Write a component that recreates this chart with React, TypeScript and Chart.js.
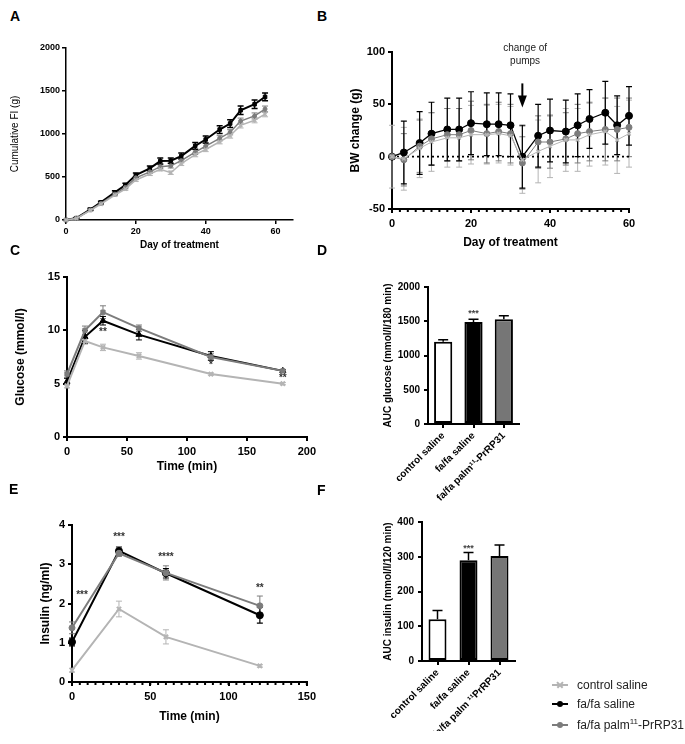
import React, { useEffect, useRef } from 'react';
import { Chart, registerables } from 'chart.js';

Chart.register(...registerables);

const FONT = '"Liberation Sans", Arial, Helvetica, sans-serif';
const C_FA = '#000000';
const C_PALM = '#7c7c7c';
const C_CTRL = '#b4b4b4';

// ---------- Panel A: cumulative food intake ----------
const dayA = [0, 3, 7, 10, 14, 17, 20, 24, 27, 30, 33, 37, 40, 44, 47, 50, 54, 57];
const fiFa = [0, 22, 124, 205, 321, 406, 522, 600, 685, 690, 743, 862, 936, 1052, 1122, 1276, 1346, 1431];
const fiFaErr = [0, 8, 12, 12, 18, 20, 25, 28, 35, 30, 35, 40, 40, 45, 45, 50, 50, 45];
const fiPalm = [0, 20, 118, 192, 300, 378, 490, 560, 620, 630, 690, 790, 860, 950, 1020, 1150, 1210, 1290];
const fiPalmErr = [0, 6, 10, 10, 12, 15, 18, 20, 22, 25, 25, 28, 30, 30, 30, 35, 35, 35];
const fiCtrl = [0, 18, 112, 185, 290, 360, 465, 535, 590, 550, 655, 760, 820, 910, 980, 1100, 1160, 1230];
const fiCtrlErr = [0, 5, 8, 10, 12, 15, 15, 18, 20, 20, 22, 25, 25, 25, 28, 30, 30, 30];
const ticksAX = [0, 20, 40, 60];
const ticksAY = [0, 500, 1000, 1500, 2000];

// ---------- Panel B: body weight change ----------
const dayB = [0, 3, 7, 10, 14, 17, 20, 24, 27, 30, 33, 37, 40, 44, 47, 50, 54, 57, 60];
const bwFa = [0, 4, 13, 22, 26, 26, 32, 31, 31, 30, 0, 20, 25, 24, 30, 36, 42, 30, 39];
const bwFaErr = [0, 30, 30, 30, 30, 30, 30, 30, 30, 30, 30, 30, 30, 30, 30, 28, 30, 28, 28];
const bwPalm = [0, -3, 10, 17, 21, 21, 25, 22, 24, 22, -6, 14, 14, 17, 22, 24, 26, 26, 28];
const bwPalmErr = [0, 25, 25, 25, 25, 25, 28, 28, 28, 28, 25, 25, 25, 25, 28, 28, 30, 30, 28];
const bwCtrl = [0, -2, 8, 14, 18, 18, 21, 21, 22, 20, -3, 5, 10, 16, 16, 21, 24, 16, 22];
const bwCtrlErr = [30, 30, 28, 28, 28, 28, 28, 28, 28, 28, 32, 30, 30, 30, 30, 30, 32, 32, 32];
const ticksBX = [0, 20, 40, 60];
const ticksBY = [-50, 0, 50, 100];

// ---------- Panel C: glucose ----------
const timeC = [0, 15, 30, 60, 120, 180];
const gluFa = [5.2, 9.4, 10.9, 9.6, 7.6, 6.2];
const gluFaErr = [0.3, 0.6, 0.4, 0.5, 0.4, 0.1];
const gluPalm = [5.9, 10.0, 11.7, 10.2, 7.5, 6.2];
const gluPalmErr = [0.3, 0.4, 0.6, 0.3, 0.3, 0.1];
const gluCtrl = [4.8, 9.0, 8.4, 7.6, 5.9, 5.0];
const gluCtrlErr = [0.2, 0.3, 0.3, 0.3, 0.1, 0.1];
const ticksCX = [0, 50, 100, 150, 200];
const ticksCY = [0, 5, 10, 15];
const starsC = [
  { x: 30, y: 9.8, text: '**' },
  { x: 120, y: 6.7, text: '*' },
  { x: 180, y: 5.5, text: '**' },
];

// ---------- Panel D: AUC glucose ----------
const groupsD = ['control saline', 'fa/fa saline', 'fa/fa palm\u00B9\u00B9-PrRP31'];
const aucGlu = [1200, 1490, 1530];
const aucGluErr = [30, 40, 50];
const ticksDY = [0, 500, 1000, 1500, 2000];
const starsD = [{ x: 1, y: 1610, text: '***' }];

// ---------- Panel E: insulin ----------
const timeE = [0, 30, 60, 120];
const insFa = [1.02, 3.34, 2.77, 1.7];
const insFaErr = [0.1, 0.1, 0.12, 0.2];
const insPalm = [1.38, 3.28, 2.78, 1.94];
const insPalmErr = [0.15, 0.08, 0.18, 0.25];
const insCtrl = [0.3, 1.86, 1.15, 0.41];
const insCtrlErr = [0.05, 0.2, 0.18, 0.03];
const ticksEX = [0, 50, 100, 150];
const ticksEY = [0, 1, 2, 3, 4];
const starsE = [
  { x: 6.4, y: 2.22, text: '***' },
  { x: 30, y: 3.7, text: '***' },
  { x: 60, y: 3.17, text: '****' },
  { x: 120, y: 2.38, text: '**' },
];

// ---------- Panel F: AUC insulin ----------
const groupsF = ['control saline', 'fa/fa saline', 'fa/fa palm \u00B9\u00B9PrRP31'];
const aucIns = [120, 290, 302];
const aucInsErr = [25, 22, 32];
const ticksFY = [0, 100, 200, 300, 400];
const starsF = [{ x: 1, y: 325, text: '***' }];

// ---------- legend ----------
const legendItems = [
  { label: 'control saline', sup: '', rest: '', color: C_CTRL, marker: 'x' },
  { label: 'fa/fa saline', sup: '', rest: '', color: C_FA, marker: 'dot' },
  { label: 'fa/fa palm', sup: '11', rest: '-PrRP31', color: C_PALM, marker: 'dot' },
];

// ---------- plugins ----------
const errorBarPlugin = {
  id: 'errorBars',
  beforeDatasetsDraw(chart: any) {
    drawErrors(chart, false);
  },
  afterDatasetsDraw(chart: any) {
    drawErrors(chart, true);
  },
};

function drawErrors(chart: any, after: boolean) {
  const ctx = chart.ctx;
  const ys = chart.scales.y;
  chart.data.datasets.forEach((ds: any, di: number) => {
    const errs = ds.errors;
    if (!errs) return;
    const upOnly = !!ds.errorUpOnly;
    if (upOnly !== after) return;
    const meta = chart.getDatasetMeta(di);
    ctx.save();
    ctx.strokeStyle = ds.errorColor || ds.borderColor;
    ctx.lineWidth = ds.errorWidth || 1;
    const cap = ds.errorCap || 3;
    meta.data.forEach((el: any, i: number) => {
      const e = errs[i];
      if (!e) return;
      const raw = ds.data[i];
      const v = typeof raw === 'number' ? raw : raw.y;
      const x = el.x;
      const yTop = ys.getPixelForValue(v + e);
      const yBot = ys.getPixelForValue(upOnly ? v : v - e);
      ctx.beginPath();
      ctx.moveTo(x, yTop);
      ctx.lineTo(x, yBot);
      ctx.moveTo(x - cap, yTop);
      ctx.lineTo(x + cap, yTop);
      if (!upOnly) {
        ctx.moveTo(x - cap, yBot);
        ctx.lineTo(x + cap, yBot);
      }
      ctx.stroke();
    });
    ctx.restore();
  });
}

function makeNotes(cfg: any) {
  return {
    id: 'notes',
    beforeDatasetsDraw(chart: any) {
      if (cfg.zeroLine) {
        const ctx = chart.ctx;
        const { left, right } = chart.chartArea;
        const y = chart.scales.y.getPixelForValue(0);
        ctx.save();
        ctx.strokeStyle = '#000';
        ctx.lineWidth = 1.6;
        ctx.setLineDash([2, 3]);
        ctx.beginPath();
        ctx.moveTo(left, y);
        ctx.lineTo(right, y);
        ctx.stroke();
        ctx.restore();
      }
    },
    afterDraw(chart: any) {
      const ctx = chart.ctx;
      const xs = chart.scales.x;
      const ys = chart.scales.y;
      if (cfg.minorStep) {
        const b = chart.chartArea.bottom;
        ctx.save();
        ctx.strokeStyle = '#000';
        ctx.lineWidth = 2;
        for (let v = xs.min; v <= xs.max + 1e-6; v += cfg.minorStep) {
          const px = xs.getPixelForValue(v);
          ctx.beginPath();
          ctx.moveTo(px, b);
          ctx.lineTo(px, b + 3);
          ctx.stroke();
        }
        ctx.restore();
      }
      (cfg.items || []).forEach((it: any) => {
        ctx.save();
        ctx.font = it.font || `bold 10px ${FONT}`;
        ctx.fillStyle = it.color || '#333';
        ctx.textAlign = 'center';
        ctx.textBaseline = 'middle';
        ctx.fillText(it.text, xs.getPixelForValue(it.x), ys.getPixelForValue(it.y));
        ctx.restore();
      });
      if (cfg.arrow) {
        const a = cfg.arrow;
        const x = xs.getPixelForValue(a.x);
        const y1 = ys.getPixelForValue(a.from);
        const y2 = ys.getPixelForValue(a.to);
        ctx.save();
        ctx.strokeStyle = '#000';
        ctx.fillStyle = '#000';
        ctx.lineWidth = 2;
        ctx.beginPath();
        ctx.moveTo(x, y1);
        ctx.lineTo(x, y2 - 10);
        ctx.stroke();
        ctx.beginPath();
        ctx.moveTo(x - 4.5, y2 - 12);
        ctx.lineTo(x + 4.5, y2 - 12);
        ctx.lineTo(x, y2);
        ctx.closePath();
        ctx.fill();
        ctx.restore();
      }
    },
  };
}

// ---------- helpers ----------
function linAxis(c: any) {
  const lw = c.lw ?? 2;
  return {
    type: 'linear',
    min: c.min,
    max: c.max,
    afterBuildTicks: (s: any) => {
      s.ticks = c.ticks.map((v: number) => ({ value: v }));
    },
    afterFit: (s: any) => {
      if (c.horizontal) s.height = c.fit;
      else s.width = c.fit;
    },
    border: { display: true, color: '#000', width: lw },
    grid: { display: true, drawOnChartArea: false, drawTicks: true, tickLength: 4, color: '#000', lineWidth: lw },
    ticks: {
      color: '#000',
      padding: c.tickPad ?? 3,
      font: { family: FONT, size: c.size, weight: 'bold' },
      callback: (v: any) => String(v),
    },
    title: {
      display: true,
      text: c.title,
      color: '#000',
      font: { family: FONT, size: c.titleSize, weight: c.titleBold ? 'bold' : 'normal', lineHeight: 1.2 },
      padding: c.horizontal ? { top: 0, bottom: 0 } : { top: c.titlePad ?? 0, bottom: 0 },
    },
  };
}

function lineDs(xs: number[], ys: number[], errs: number[], color: string, o: any) {
  return {
    data: xs.map((x, i) => ({ x, y: ys[i] })),
    errors: errs,
    errorColor: color,
    errorWidth: o.ew ?? 1,
    errorCap: o.cap ?? 3,
    borderColor: color,
    backgroundColor: color,
    borderWidth: o.lw,
    pointRadius: o.r,
    pointStyle: o.style,
    pointBorderWidth: o.pbw ?? 1,
    pointBackgroundColor: color,
    pointBorderColor: color,
    tension: 0,
    clip: false,
  };
}

function baseOptions(padding: any, scales: any) {
  return {
    responsive: false,
    animation: false,
    devicePixelRatio: 1,
    events: [],
    layout: { padding },
    plugins: { legend: { display: false }, tooltip: { enabled: false } },
    scales,
  };
}

function barAxisX(fit: number) {
  return {
    type: 'category',
    offset: true,
    afterFit: (s: any) => {
      s.height = fit;
    },
    border: { display: true, color: '#000', width: 2 },
    grid: { display: true, offset: false, drawOnChartArea: false, drawTicks: true, tickLength: 4, color: '#000', lineWidth: 2 },
    ticks: { autoSkip: false, minRotation: 45, maxRotation: 45, padding: 2, color: '#000', font: { family: FONT, size: 10, weight: 'bold' } },
  };
}

// ---------- chart configs ----------
const cfgA = () => ({
  type: 'line',
  data: {
    datasets: [
      lineDs(dayA, fiCtrl, fiCtrlErr, C_CTRL, { lw: 1.5, r: 2.5, style: 'crossRot', pbw: 1.5 }),
      lineDs(dayA, fiPalm, fiPalmErr, C_PALM, { lw: 1.5, r: 2, style: 'circle' }),
      lineDs(dayA, fiFa, fiFaErr, C_FA, { lw: 2, r: 2.5, style: 'rect', ew: 1.5 }),
    ],
  },
  options: baseOptions(
    { left: 4, top: 18, right: 27, bottom: 9 },
    {
      x: linAxis({ min: 0, max: 65, ticks: ticksAX, size: 9, fit: 31, horizontal: true, title: 'Day of treatment', titleSize: 10, titleBold: true, lw: 1.5, tickPad: 2 }),
      y: linAxis({ min: 0, max: 2000, ticks: ticksAY, size: 9, fit: 62, title: 'Cumulative FI (g)', titleSize: 10, titleBold: false, titlePad: 5, lw: 1.5, tickPad: 2 }),
    }
  ),
  plugins: [errorBarPlugin, makeNotes({})],
});

const cfgB = () => ({
  type: 'line',
  data: {
    datasets: [
      lineDs(dayB, bwCtrl, bwCtrlErr, C_CTRL, { lw: 1, r: 2.5, style: 'crossRot', pbw: 1.5, cap: 3 }),
      lineDs(dayB, bwPalm, bwPalmErr, C_PALM, { lw: 1, r: 3, style: 'circle', cap: 3 }),
      lineDs(dayB, bwFa, bwFaErr, C_FA, { lw: 1.3, r: 3.5, style: 'circle', ew: 1.2, cap: 3 }),
    ],
  },
  options: baseOptions(
    { left: 10, top: 22, right: 56, bottom: 10 },
    {
      x: linAxis({ min: 0, max: 60, ticks: ticksBX, size: 11, fit: 41, horizontal: true, title: 'Day of treatment', titleSize: 12, titleBold: true, tickPad: 4 }),
      y: linAxis({ min: -50, max: 100, ticks: ticksBY, size: 11, fit: 52, title: 'BW change (g)', titleSize: 12, titleBold: true, titlePad: 8, tickPad: 3 }),
    }
  ),
  plugins: [
    errorBarPlugin,
    makeNotes({
      zeroLine: true,
      minorStep: 2,
      arrow: { x: 33, from: 70, to: 47 },
      items: [
        { x: 33.7, y: 104, text: 'change of', font: `10px ${FONT}`, color: '#222' },
        { x: 33.7, y: 91.5, text: 'pumps', font: `10px ${FONT}`, color: '#222' },
      ],
    }),
  ],
});

const cfgC = () => ({
  type: 'line',
  data: {
    datasets: [
      lineDs(timeC, gluCtrl, gluCtrlErr, C_CTRL, { lw: 2, r: 3, style: 'crossRot', pbw: 2 }),
      lineDs(timeC, gluPalm, gluPalmErr, C_PALM, { lw: 2, r: 3, style: 'rect' }),
      lineDs(timeC, gluFa, gluFaErr, C_FA, { lw: 2, r: 3.5, style: 'triangle' }),
    ],
  },
  options: baseOptions(
    { left: 4, top: 22, right: 13, bottom: 6 },
    {
      x: linAxis({ min: 0, max: 200, ticks: ticksCX, size: 11, fit: 37, horizontal: true, title: 'Time (min)', titleSize: 12, titleBold: true, tickPad: 4 }),
      y: linAxis({ min: 0, max: 15, ticks: ticksCY, size: 11, fit: 63, title: 'Glucose (mmol/l)', titleSize: 12, titleBold: true, titlePad: 9, tickPad: 3 }),
    }
  ),
  plugins: [errorBarPlugin, makeNotes({ items: starsC.map((s) => ({ ...s, font: `bold 10px ${FONT}`, color: '#333' })) })],
});

const cfgD = () => ({
  type: 'bar',
  data: {
    labels: groupsD,
    datasets: [
      {
        data: aucGlu,
        errors: aucGluErr,
        errorUpOnly: true,
        errorColor: '#000',
        errorWidth: 1.5,
        errorCap: 5,
        backgroundColor: ['#ffffff', '#000000', '#767676'],
        borderColor: '#000',
        borderWidth: 2,
        borderSkipped: false,
        barPercentage: 0.6,
        categoryPercentage: 1,
      },
    ],
  },
  options: baseOptions(
    { left: 40, top: 32, right: 41, bottom: 6 },
    {
      x: barAxisX(80),
      y: linAxis({ min: 0, max: 2000, ticks: ticksDY, size: 10, fit: 58, title: 'AUC glucose (mmol/l/180 min)', titleSize: 10, titleBold: true, titlePad: 12, tickPad: 4 }),
    }
  ),
  plugins: [errorBarPlugin, makeNotes({ items: starsD.map((s) => ({ ...s, font: `bold 9px ${FONT}`, color: '#444' })) })],
});

const cfgE = () => ({
  type: 'line',
  data: {
    datasets: [
      lineDs(timeE, insCtrl, insCtrlErr, C_CTRL, { lw: 2, r: 3, style: 'crossRot', pbw: 2 }),
      lineDs(timeE, insPalm, insPalmErr, C_PALM, { lw: 2, r: 3, style: 'circle' }),
      lineDs(timeE, insFa, insFaErr, C_FA, { lw: 2, r: 3.5, style: 'circle', ew: 1.2 }),
    ],
  },
  options: baseOptions(
    { left: 30, top: 20, right: 13, bottom: 20 },
    {
      x: linAxis({ min: 0, max: 150, ticks: ticksEX, size: 11, fit: 42, horizontal: true, title: 'Time (min)', titleSize: 12, titleBold: true, tickPad: 4 }),
      y: linAxis({ min: 0, max: 4, ticks: ticksEY, size: 11, fit: 42, title: 'Insulin (ng/ml)', titleSize: 12, titleBold: true, titlePad: 8, tickPad: 3 }),
    }
  ),
  plugins: [errorBarPlugin, makeNotes({ minorStep: 5, items: starsE.map((s) => ({ ...s, font: `bold 10px ${FONT}`, color: '#333' })) })],
});

const cfgF = () => ({
  type: 'bar',
  data: {
    labels: groupsF,
    datasets: [
      {
        data: aucIns,
        errors: aucInsErr,
        errorUpOnly: true,
        errorColor: '#000',
        errorWidth: 1.5,
        errorCap: 5,
        backgroundColor: ['#ffffff', '#000000', '#767676'],
        borderColor: '#000',
        borderWidth: 2,
        borderSkipped: false,
        barPercentage: 0.58,
        categoryPercentage: 1,
      },
    ],
  },
  options: baseOptions(
    { left: 40, top: 17, right: 45, bottom: 13 },
    {
      x: barAxisX(70),
      y: linAxis({ min: 0, max: 400, ticks: ticksFY, size: 10, fit: 52, title: 'AUC insulin (mmol/l/120 min)', titleSize: 10, titleBold: true, titlePad: 12, tickPad: 4 }),
    }
  ),
  plugins: [errorBarPlugin, makeNotes({ items: starsF.map((s) => ({ ...s, font: `bold 9px ${FONT}`, color: '#444' })) })],
});

// ---------- components ----------
function Panel({ box, make }: { box: number[]; make: () => any }) {
  const ref = useRef<HTMLCanvasElement | null>(null);
  useEffect(() => {
    if (!ref.current) return;
    const chart = new Chart(ref.current, make());
    return () => chart.destroy();
  }, []);
  const [l, t, w, h] = box;
  return (
    <canvas
      ref={ref}
      width={w}
      height={h}
      style={{ position: 'absolute', left: l, top: t, width: w, height: h }}
    />
  );
}

const letterStyle = (left: number, top: number): React.CSSProperties => ({
  position: 'absolute',
  left,
  top,
  font: `bold 14px ${FONT}`,
  lineHeight: '14px',
  color: '#000',
});

function Legend() {
  const ys = [685, 704, 725];
  return (
    <>
      {legendItems.map((it, i) => {
        const y = ys[i];
        return (
          <React.Fragment key={i}>
            <div style={{ position: 'absolute', left: 552, top: y - 0.75, width: 16, height: 1.5, background: it.color }} />
            {it.marker === 'dot' ? (
              <div style={{ position: 'absolute', left: 557, top: y - 3, width: 6, height: 6, borderRadius: 3, background: it.color }} />
            ) : (
              <>
                <div style={{ position: 'absolute', left: 556, top: y - 0.75, width: 8, height: 1.5, background: it.color, transform: 'rotate(45deg)' }} />
                <div style={{ position: 'absolute', left: 556, top: y - 0.75, width: 8, height: 1.5, background: it.color, transform: 'rotate(-45deg)' }} />
              </>
            )}
            <div style={{ position: 'absolute', left: 577, top: y - 8, font: `12px ${FONT}`, lineHeight: '16px', color: '#222', whiteSpace: 'nowrap' }}>
              {it.label}
              {it.sup ? <sup style={{ fontSize: 8, lineHeight: 0 }}>{it.sup}</sup> : null}
              {it.rest}
            </div>
          </React.Fragment>
        );
      })}
    </>
  );
}

export default function App() {
  return (
    <div style={{ position: 'absolute', left: 0, top: 0, width: 685, height: 744, background: '#fff', overflow: 'hidden' }}>
      <Panel box={[0, 30, 320, 230]} make={cfgA} />
      <Panel box={[330, 30, 355, 230]} make={cfgB} />
      <Panel box={[0, 255, 320, 225]} make={cfgC} />
      <Panel box={[330, 255, 230, 255]} make={cfgD} />
      <Panel box={[0, 505, 320, 239]} make={cfgE} />
      <Panel box={[330, 505, 230, 239]} make={cfgF} />
      <div style={letterStyle(10, 9)}>A</div>
      <div style={letterStyle(317, 9)}>B</div>
      <div style={letterStyle(10, 243)}>C</div>
      <div style={letterStyle(317, 243)}>D</div>
      <div style={letterStyle(9, 482)}>E</div>
      <div style={letterStyle(317, 483)}>F</div>
      <Legend />
    </div>
  );
}
